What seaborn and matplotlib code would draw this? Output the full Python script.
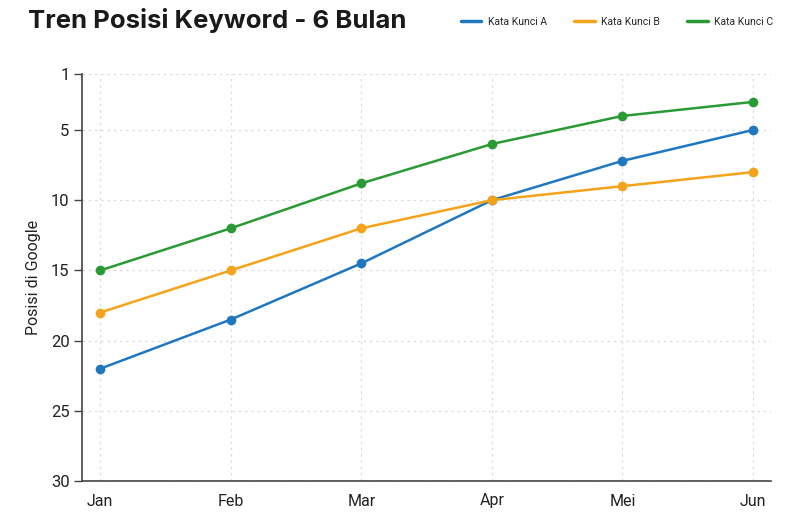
import matplotlib
matplotlib.use("Agg")
import matplotlib.pyplot as plt
from matplotlib.lines import Line2D
import seaborn as sns
import pandas as pd

# data
bulan   = ["Jan", "Feb", "Mar", "Apr", "Mei", "Jun"]
kunci_a = [22, 18.5, 14.5, 10, 7.2, 5]
kunci_b = [18, 15, 12, 10, 9, 8]
kunci_c = [15, 12, 8.8, 6, 4, 3]
seri    = ["Kata Kunci A", "Kata Kunci B", "Kata Kunci C"]
warna   = ["#1f77c0", "#f5a31a", "#2a9a35"]
y_ticks = [1, 5, 10, 15, 20, 25, 30]

df = pd.DataFrame({
    "bulan": bulan * 3,
    "idx": list(range(len(bulan))) * 3,
    "posisi": kunci_a + kunci_b + kunci_c,
    "seri": [s for s in seri for _ in bulan],
})

sns.set_style("white")
plt.rcParams["font.family"] = ["Roboto", "DejaVu Sans"]

fig = plt.figure(figsize=(8, 5.2), dpi=100)
ax = fig.add_axes([0.1025, 0.075, 0.8615, 0.783])

sns.lineplot(data=df, x="idx", y="posisi", hue="seri", palette=warna,
             marker="o", markersize=7, markeredgewidth=0, linewidth=1.8,
             legend=False, ax=ax)

ax.set_ylim(30, 1)
ax.set_yticks(y_ticks)
ax.set_xlim(-0.14, 5.14)
ax.set_xticks(range(len(bulan)))
ax.set_xticklabels(bulan)
ax.set_xlabel("")
ax.set_ylabel("Posisi di Google", fontsize=11.5, color="#222222", labelpad=7)
ax.tick_params(axis="y", length=6, width=1, color="#444444", labelsize=12,
               labelcolor="#222222", left=True, pad=3)
ax.tick_params(axis="x", length=0, labelsize=11.5, labelcolor="#222222", pad=9)
ax.grid(True, linestyle=(0, (2, 3)), color="#dddddd", linewidth=0.9)
for s in ["top", "right"]:
    ax.spines[s].set_visible(False)
for s in ["left", "bottom"]:
    ax.spines[s].set_color("#444444")
    ax.spines[s].set_linewidth(1.2)

fig.text(0.035, 0.96, "Tren Posisi Keyword - 6 Bulan", fontsize=18.5,
         fontweight="bold", color="#1a1a1a", va="center", ha="left",
         family=["Inter", "DejaVu Sans"])

handles = [Line2D([0], [0], color=c, lw=2.5) for c in warna]
fig.legend(handles, seri, loc="center right", bbox_to_anchor=(0.978, 0.958),
           ncol=3, frameon=False, fontsize=7.5, handlelength=2.0,
           columnspacing=2.6, handletextpad=0.6)

fig.savefig("out.png", dpi=100)
